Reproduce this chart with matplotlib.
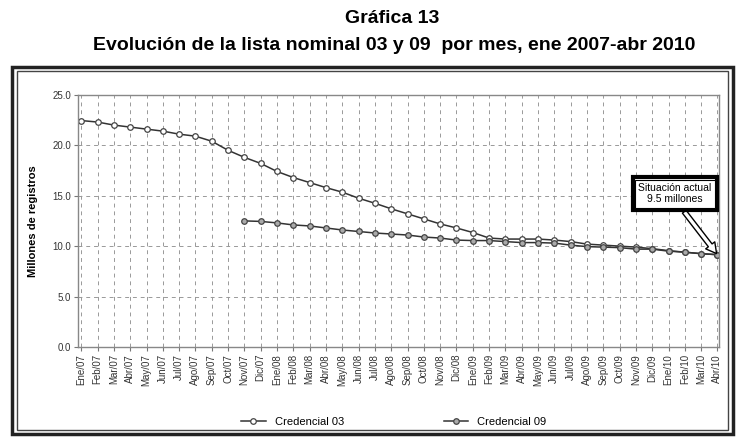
import numpy as np
import matplotlib
matplotlib.use("Agg")
import matplotlib.pyplot as plt
from matplotlib.patches import Rectangle

plt.rcParams['font.family'] = ['Liberation Sans', 'DejaVu Sans']

meses = ["Ene", "Feb", "Mar", "Abr", "May", "Jun", "Jul", "Ago", "Sep", "Oct", "Nov", "Dic"]
etiquetas = [m + "/" + a for a in ["07", "08", "09"] for m in meses] + ["Ene/10", "Feb/10", "Mar/10", "Abr/10"]

cred03 = [22.45, 22.3, 22.0, 21.8, 21.6, 21.4, 21.1, 20.9, 20.4, 19.5,
          18.8, 18.2, 17.4, 16.8, 16.3, 15.8, 15.35, 14.75, 14.25, 13.7,
          13.2, 12.7, 12.2, 11.8, 11.35, 10.8, 10.7, 10.7, 10.7, 10.6,
          10.45, 10.2, 10.1, 10.0, 9.9, 9.75, 9.55, 9.4, 9.25, 9.15]
cred09 = [None] * 10 + [12.5, 12.45, 12.3, 12.1, 12.0, 11.8, 11.6, 11.45, 11.3, 11.2,
                        11.1, 10.9, 10.8, 10.6, 10.55, 10.55, 10.45, 10.35, 10.35, 10.3,
                        10.1, 9.95, 9.9, 9.85, 9.7, 9.7, 9.5, 9.4, 9.25, 9.15]

x = np.arange(len(etiquetas))
y03 = np.array(cred03, dtype=float)
y09 = np.array([np.nan if v is None else v for v in cred09], dtype=float)

fig = plt.figure(figsize=(7.36, 4.37), dpi=100)
ax = fig.add_axes([0.106, 0.206, 0.871, 0.577])

ax.plot(x, y03, '-o', color='#333333', lw=1.1, ms=4, mfc='white', mec='#444444', mew=0.9,
        label="Credencial 03")
ax.plot(x, y09, '-o', color='#333333', lw=1.1, ms=4, mfc='#aaaaaa', mec='#444444', mew=0.9,
        label="Credencial 09")

ax.set_xlim(-0.2, 39.1)
ax.set_ylim(0, 25)
ax.set_yticks([0, 5, 10, 15, 20, 25])
ax.set_yticklabels(["%.1f" % v for v in [0, 5, 10, 15, 20, 25]], fontsize=7, color='#333333')
ax.set_xticks(x)
ax.set_xticklabels(etiquetas, rotation=90, fontsize=7, color='#333333')
ax.tick_params(axis='both', length=3, color='#777777', pad=2)
ax.set_ylabel("Millones de registros", fontsize=8, fontweight='bold', labelpad=10)

ax.grid(True, axis='both', color='#999999', ls=(0, (4, 4)), lw=0.7)
for s in ax.spines.values():
    s.set_color('#888888')
    s.set_linewidth(1)

# recuadro de la situacion actual (borde doble) con flecha hueca
ax.annotate("Situación actual\n9.5 millones", xy=(x[-1], y03[-1]), xytext=(36.4, 15.2),
            ha='center', va='center', fontsize=7.5, color='white',
            bbox=dict(boxstyle='square,pad=0.55', fc='white', ec='black', lw=3),
            arrowprops=dict(arrowstyle='simple,head_width=1.1,head_length=1.0,tail_width=0.45',
                            fc='white', ec='black', lw=1, relpos=(0.55, 0), shrinkA=0, shrinkB=1))
ax.text(36.4, 15.2, "Situación actual\n9.5 millones", ha='center', va='center', fontsize=7.5,
        bbox=dict(boxstyle='square,pad=0.3', fc='white', ec='black', lw=0.8))

fig.text(0.533, 0.958, "Gráfica 13", ha='center', va='center', fontsize=14, fontweight='bold')
fig.text(0.535, 0.895, "Evolución de la lista nominal 03 y 09  por mes, ene 2007-abr 2010",
         ha='center', va='center', fontsize=14, fontweight='bold')

fig.legend(loc='center', bbox_to_anchor=(0.535, 0.035), ncol=2, frameon=False, fontsize=8,
           columnspacing=9, handlelength=2.2)

# marco doble del grafico
fig.patches.append(Rectangle((12 / 736, 3 / 437), 721 / 736, 367 / 437, transform=fig.transFigure,
                             fill=False, ec='#222222', lw=2.5))
fig.patches.append(Rectangle((17 / 736, 7 / 437), 711 / 736, 359 / 437, transform=fig.transFigure,
                             fill=False, ec='#444444', lw=1))

fig.savefig("out.png", dpi=100)
